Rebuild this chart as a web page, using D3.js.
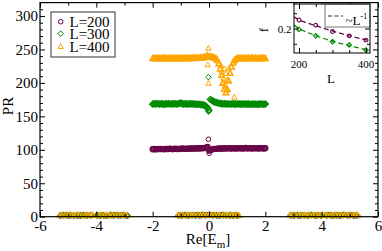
<!DOCTYPE html>
<html>
<head>
<script src="https://d3js.org/d3.v7.min.js"></script>
<style>
body { margin: 0; background: #fff; }
text { font-family: "Liberation Serif", "DejaVu Serif", serif; fill: #000; }
</style>
</head>
<body>
<script>

// ---- data ----
const series = ["L=200", "L=300", "L=400"];
const colors = ["#670748", "#008b00", "#ffa500"];

// eigenvalues in the bulk band (shared x grid for the three sizes)
const bandE = [-2.00,-1.95,-1.90,-1.85,-1.80,-1.75,-1.70,-1.65,-1.60,-1.55,-1.50,-1.45,-1.40,-1.35,-1.30,-1.25,-1.20,-1.15,-1.10,-1.05,
  -1.00,-0.95,-0.90,-0.85,-0.80,-0.75,-0.70,-0.65,-0.60,-0.55,-0.50,-0.45,-0.40,-0.35,-0.30,-0.25,-0.20,-0.15,-0.10,-0.05,
  0.00,0.05,0.10,0.15,0.20,0.25,0.30,0.35,0.40,0.45,0.50,0.55,0.60,0.65,0.70,0.75,0.80,0.85,0.90,0.95,
  1.00,1.05,1.10,1.15,1.20,1.25,1.30,1.35,1.40,1.45,1.50,1.55,1.60,1.65,1.70,1.75,1.80,1.85,1.90,1.95,2.00];

const PR200 = [100.8,101.2,100.6,101.0,101.4,100.9,101.3,101.1,100.7,101.5,
  101.2,101.0,101.6,101.3,100.9,101.4,101.7,101.2,101.5,101.1,
  101.6,101.9,101.4,101.8,101.3,101.7,102.0,101.6,101.9,102.2,
  101.8,102.1,102.4,101.9,102.3,102.6,102.2,102.8,103.3,104.2,
  98.9,99.6,100.4,101.0,101.5,101.3,101.8,102.0,101.6,102.1,
  101.9,102.3,101.8,102.2,102.5,102.1,101.9,102.4,102.2,101.8,
  102.3,102.6,102.1,102.4,101.9,102.2,102.7,102.3,102.0,102.5,
  102.2,101.9,102.4,102.6,102.1,102.3,102.0,102.5,102.2,101.9,102.3];

const PR300 = [168.2,168.8,168.4,169.0,168.6,168.3,168.9,168.5,168.1,168.7,
  168.4,169.0,168.6,168.2,168.8,168.5,168.9,168.3,168.7,169.1,
  170.2,168.6,168.4,168.9,168.5,168.2,168.7,168.4,168.8,168.3,
  168.5,168.1,167.8,168.2,167.6,167.3,166.9,166.2,165.0,162.4,
  159.2,175.3,173.8,172.6,171.5,170.8,170.2,169.6,169.3,168.9,
  168.6,169.0,168.4,168.7,168.2,168.6,168.3,168.8,168.1,168.5,
  168.2,168.7,168.4,168.0,168.5,168.2,168.6,168.1,168.4,167.9,
  168.3,168.0,168.5,168.2,167.8,168.3,168.1,168.6,168.2,167.9,168.4];

const PR400 = [236.4,236.9,236.2,236.7,236.5,236.1,236.8,236.3,236.6,236.9,
  236.5,236.2,236.7,236.4,236.9,236.3,236.6,236.1,236.8,236.5,
  236.2,236.7,236.4,236.9,236.3,236.6,236.8,236.4,236.7,237.0,
  236.6,236.9,237.2,236.8,237.1,237.4,237.7,238.3,239.2,240.8,
  238.4,239.1,238.6,237.9,237.3,236.2,233.4,228.6,221.0,211.3,
  200.2,191.0,185.2,190.4,202.8,214.6,223.7,229.8,233.3,235.4,
  236.3,236.7,236.4,236.9,236.5,236.2,236.8,236.4,236.7,236.3,
  236.6,236.9,236.4,236.7,236.2,236.8,236.5,236.3,236.9,236.6,236.4];

// isolated states near E=0 and scatter inside the dip
const out200 = [[-0.02,115.7],[0.01,94.8]];
const out300 = [[-0.02,208.5],[-0.02,157.0]];
const out400 = [[-0.02,251.7],[-0.05,227.0],[-0.02,199.4],[0.90,178.5],
  [0.45,217],[0.60,214],[0.51,207],[0.65,204.5],[0.47,199],[0.57,195],[0.63,189],[0.42,226],[0.70,222],[0.55,221]];

// localized states (PR ~ 1)
const low200 = [[-5.25,1.8],[-5.10,2.4],[-4.95,1.6],[-4.80,2.1],[-4.65,1.5],[-4.50,2.6],[-4.35,1.9],[-4.20,2.2],
  [-3.95,1.7],[-3.80,2.5],[-3.65,1.6],[-3.50,2.0],[-3.35,2.7],[-3.20,1.8],[-3.05,2.3],[-2.92,1.6],
  [-1.05,1.9],[-0.90,2.4],[-0.75,1.7],[-0.60,2.2],[-0.45,2.8],[-0.30,1.8],[-0.15,2.5],[0.00,3.1],
  [0.15,2.3],[0.30,1.8],[0.45,2.6],[0.60,2.0],[0.75,1.7],[0.90,2.3],[1.02,1.8],
  [2.92,1.7],[3.05,2.2],[3.20,1.6],[3.35,2.5],[3.50,1.9],[3.65,2.3],[3.80,1.7],[3.95,2.1],
  [4.20,2.6],[4.35,1.8],[4.50,2.2],[4.65,1.6],[4.80,2.4],[4.95,1.9],[5.10,2.2],[5.22,1.7]];

const low300 = [[-5.28,1.6],[-5.16,2.2],[-5.04,1.9],[-4.92,2.5],[-4.80,1.7],[-4.68,2.1],[-4.56,1.5],[-4.44,2.4],[-4.32,1.8],[-4.20,2.0],
  [-3.98,2.3],[-3.86,1.6],[-3.74,2.1],[-3.62,1.8],[-3.50,2.6],[-3.38,1.7],[-3.26,2.2],[-3.14,1.9],[-3.02,2.4],[-2.90,1.6],
  [-1.08,2.0],[-0.96,1.7],[-0.84,2.5],[-0.72,1.9],[-0.60,2.3],[-0.48,1.6],[-0.36,2.1],[-0.24,2.7],[-0.12,1.9],
  [0.02,2.4],[0.14,1.8],[0.26,2.2],[0.38,1.7],[0.50,2.5],[0.62,1.9],[0.74,2.2],[0.86,1.6],[0.98,2.0],
  [2.90,2.2],[3.02,1.7],[3.14,2.4],[3.26,1.9],[3.38,2.1],[3.50,1.6],[3.62,2.5],[3.74,1.8],[3.86,2.2],[3.98,1.7],
  [4.18,2.0],[4.30,2.4],[4.42,1.7],[4.54,2.1],[4.66,1.9],[4.78,2.6],[4.90,1.8],[5.02,2.2],[5.14,1.6],[5.26,2.0]];

const low400 = [[-5.30,2.0],[-5.20,1.6],[-5.10,2.3],[-5.00,1.8],[-4.90,2.5],[-4.80,1.7],[-4.70,2.1],[-4.60,1.9],[-4.50,2.4],[-4.40,1.6],
  [-4.30,2.2],[-4.20,1.8],[-4.12,2.0],[-3.92,1.7],[-3.82,2.3],[-3.72,1.9],[-3.62,2.5],[-3.52,1.6],[-3.42,2.1],[-3.32,1.8],
  [-3.22,2.4],[-3.12,1.7],[-3.02,2.0],[-2.92,1.9],
  [-1.10,1.8],[-1.00,2.2],[-0.90,1.6],[-0.80,2.4],[-0.70,1.9],[-0.60,2.1],[-0.50,1.7],[-0.40,2.5],[-0.30,1.8],[-0.20,2.2],
  [-0.10,1.9],[0.00,2.6],[0.10,1.8],[0.20,2.3],[0.30,1.7],[0.40,2.1],[0.50,1.9],[0.60,2.4],[0.70,1.6],[0.80,2.2],
  [0.90,1.8],[1.00,2.0],[1.06,1.7],
  [2.88,1.9],[2.98,2.3],[3.08,1.7],[3.18,2.1],[3.28,1.8],[3.38,2.5],[3.48,1.6],[3.58,2.2],[3.68,1.9],[3.78,2.4],
  [3.88,1.7],[3.96,2.0],[4.10,2.3],[4.20,1.8],[4.30,2.1],[4.40,1.6],[4.50,2.4],[4.60,1.9],[4.70,2.2],[4.80,1.7],
  [4.90,2.0],[5.00,2.5],[5.10,1.8],[5.20,2.1],[5.28,1.9]];

// inset: f vs L
const insetL = [200, 250, 300, 350, 400];
const insetF200 = [0.228, 0.211, 0.190, 0.176, 0.162];
const insetF300 = [0.197, 0.176, 0.157, 0.146, 0.130];
const fitL = [185, 200, 250, 300, 350, 400, 412];
const fitF200 = [0.238, 0.229, 0.209, 0.192, 0.176, 0.163, 0.160];
const fitF300 = [0.211, 0.200, 0.177, 0.158, 0.144, 0.131, 0.128];

// ticks
const xTicks = [-6, -4, -2, 0, 2, 4, 6];
const xMinor = [-5, -3, -1, 1, 3, 5];
const yTicks = [0, 50, 100, 150, 200, 250, 300];
const yMinor = d3.range(10, 320, 10).filter(v => v % 50 !== 0);

// ---- setup ----
const W = 382, H = 251;
const svg = d3.select("body").append("svg").attr("width", W).attr("height", H);

const x = d3.scaleLinear().domain([-6, 6]).range([40, 378]);
const y = d3.scaleLinear().domain([0, 320]).range([216.7, 2.6]);

// marker shapes
function shapePath(kind, s) {
    if (kind === 0) return `M${-s},0a${s},${s} 0 1,0 ${2*s},0a${s},${s} 0 1,0 ${-2*s},0`;
    if (kind === 1) return `M0,${-s*1.2}L${s*1.2},0L0,${s*1.2}L${-s*1.2},0Z`;
    return `M0,${-s*1.25}L${s*1.15},${s*0.85}L${-s*1.15},${s*0.85}Z`;
}

function drawPoints(layer, pts, kind, sx, sy, s, sw) {
    layer.append("g").selectAll("path").data(pts).join("path")
        .attr("d", shapePath(kind, s))
        .attr("transform", d => `translate(${sx(d[0])},${sy(d[1])})`)
        .attr("fill", "none")
        .attr("stroke", colors[kind])
        .attr("stroke-width", sw);
}

const plot = svg.append("g");
const bands = [PR200, PR300, PR400];
const outs = [out200, out300, out400];
const lows = [low200, low300, low400];

bands.forEach((pr, k) => {
    drawPoints(plot, bandE.map((e, i) => [e, pr[i]]), k, x, y, 2.4, 1.5);
    drawPoints(plot, outs[k], k, x, y, 2.3, 1);
});
lows.forEach((pts, k) => drawPoints(plot, pts, k, x, y, 2.3, 1.2));

// ---- axes (ticks inward, on all sides) ----
function tickAxis(axis, vals, len, tx, ty, labels) {
    const g = svg.append("g").attr("transform", `translate(${tx},${ty})`)
        .call(axis.tickValues(vals).tickSizeInner(len).tickSizeOuter(0)
            .tickFormat(labels ? (d => String(d)) : ""));
    g.select(".domain").remove();
    g.selectAll("line").attr("stroke", "#000").attr("stroke-width", 1);
    return g;
}

const xb = tickAxis(d3.axisBottom(x), xTicks, -5, 0, y(0), true);
xb.selectAll("text").attr("y", 14.5).attr("dy", 0).style("font-size", "15px");
tickAxis(d3.axisBottom(x), xMinor, -3, 0, y(0), false);
tickAxis(d3.axisTop(x), xTicks, -5, 0, y(320), false);
tickAxis(d3.axisTop(x), xMinor, -3, 0, y(320), false);

const yl = tickAxis(d3.axisLeft(y), yTicks, -5, x(-6), 0, true);
yl.selectAll("text").attr("x", -2).style("font-size", "15px");
tickAxis(d3.axisLeft(y), yMinor, -3, x(-6), 0, false);
tickAxis(d3.axisRight(y), yTicks, -5, x(6), 0, false);
tickAxis(d3.axisRight(y), yMinor, -3, x(6), 0, false);

svg.append("rect")
    .attr("x", x(-6)).attr("y", y(320))
    .attr("width", x(6) - x(-6)).attr("height", y(0) - y(320))
    .attr("fill", "none").attr("stroke", "#000").attr("stroke-width", 1.2);

// axis titles
svg.append("text").attr("transform", "translate(13,106) rotate(-90)")
    .attr("text-anchor", "middle").style("font-size", "15px").text("PR");

const xt = svg.append("text").attr("x", 208).attr("y", 243.5)
    .attr("text-anchor", "middle").style("font-size", "15px");
xt.append("tspan").text("Re[E");
xt.append("tspan").attr("dy", 4).style("font-size", "11px").text("m");
xt.append("tspan").attr("dy", -4).text("]");

// ---- legend ----
const leg = svg.append("g");
leg.append("rect").attr("x", 51).attr("y", 12).attr("width", 64).attr("height", 45)
    .attr("fill", "#fff").attr("stroke", "#333").attr("stroke-width", 1);
const legY = [21.7, 33.6, 46.5];
series.forEach((name, k) => {
    leg.append("path").attr("d", shapePath(k, 2.3))
        .attr("transform", `translate(60.7,${legY[k]})`)
        .attr("fill", "none").attr("stroke", colors[k]).attr("stroke-width", 1);
    leg.append("text").attr("x", 69.5).attr("y", legY[k] + 5)
        .style("font-size", "15px").text(name);
});

// ---- inset ----
const ix = d3.scaleLinear().domain([185, 412]).range([294, 370]);
const iy = d3.scaleLinear().domain([0.12, 0.28]).range([53, 4]);
const inset = svg.append("g");

inset.append("rect").attr("x", 294).attr("y", 4).attr("width", 76).attr("height", 49)
    .attr("fill", "#fff").attr("stroke", "none");

const fitLine = d3.line().x(d => ix(d[0])).y(d => iy(d[1])).curve(d3.curveMonotoneX);
[fitF200, fitF300].forEach((f, k) => {
    inset.append("path").datum(fitL.map((l, i) => [l, f[i]]))
        .attr("d", fitLine).attr("fill", "none")
        .attr("stroke", colors[k]).attr("stroke-width", 1.3)
        .attr("stroke-dasharray", "5,3");
});
drawPoints(inset, insetL.map((l, i) => [l, insetF200[i]]), 0, ix, iy, 1.9, 1.1);
drawPoints(inset, insetL.map((l, i) => [l, insetF300[i]]), 1, ix, iy, 1.9, 1.1);

function insetAxis(axis, vals, len, tx, ty) {
    const g = inset.append("g").attr("transform", `translate(${tx},${ty})`)
        .call(axis.tickValues(vals).tickSizeInner(len).tickSizeOuter(0).tickFormat(""));
    g.select(".domain").remove();
    g.selectAll("line").attr("stroke", "#000");
}
insetAxis(d3.axisBottom(ix), [200, 400], -5, 0, 53);
insetAxis(d3.axisBottom(ix), [250, 300, 350], -3, 0, 53);
insetAxis(d3.axisTop(ix), [200, 400], -5, 0, 4);
insetAxis(d3.axisTop(ix), [250, 300, 350], -3, 0, 4);
insetAxis(d3.axisLeft(iy), [0.2], -5, 294, 0);
insetAxis(d3.axisLeft(iy), [0.15, 0.25], -3, 294, 0);
insetAxis(d3.axisRight(iy), [0.2], -5, 370, 0);
insetAxis(d3.axisRight(iy), [0.15, 0.25], -3, 370, 0);

// inset legend
inset.append("rect").attr("x", 325).attr("y", 4).attr("width", 45).attr("height", 23)
    .attr("fill", "#fff").attr("stroke", "#777").attr("stroke-width", 1);
inset.append("line").attr("x1", 328).attr("x2", 343).attr("y1", 16).attr("y2", 16)
    .attr("stroke", "#333").attr("stroke-width", 1.2).attr("stroke-dasharray", "4,2.5");
const lt = inset.append("text").attr("x", 345.5).attr("y", 24.5).style("font-size", "13px");
lt.append("tspan").text("~L");
lt.append("tspan").attr("dy", -6).style("font-size", "8px").text("-1");

inset.append("rect").attr("x", 294).attr("y", 4).attr("width", 76).attr("height", 49)
    .attr("fill", "none").attr("stroke", "#000").attr("stroke-width", 1);

[200, 400].forEach(v => {
    inset.append("text").attr("x", ix(v)).attr("y", 67.5).attr("text-anchor", "middle")
        .style("font-size", "11px").text(v);
});
inset.append("text").attr("x", 291.5).attr("y", iy(0.2) + 4).attr("text-anchor", "end")
    .style("font-size", "11px").text("0.2");
inset.append("text").attr("x", 331).attr("y", 83).attr("text-anchor", "middle")
    .style("font-size", "13px").text("L");
inset.append("text").attr("transform", "translate(268,30) rotate(-90)")
    .attr("text-anchor", "middle").style("font-size", "13px").text("f");

</script>
</body>
</html>
